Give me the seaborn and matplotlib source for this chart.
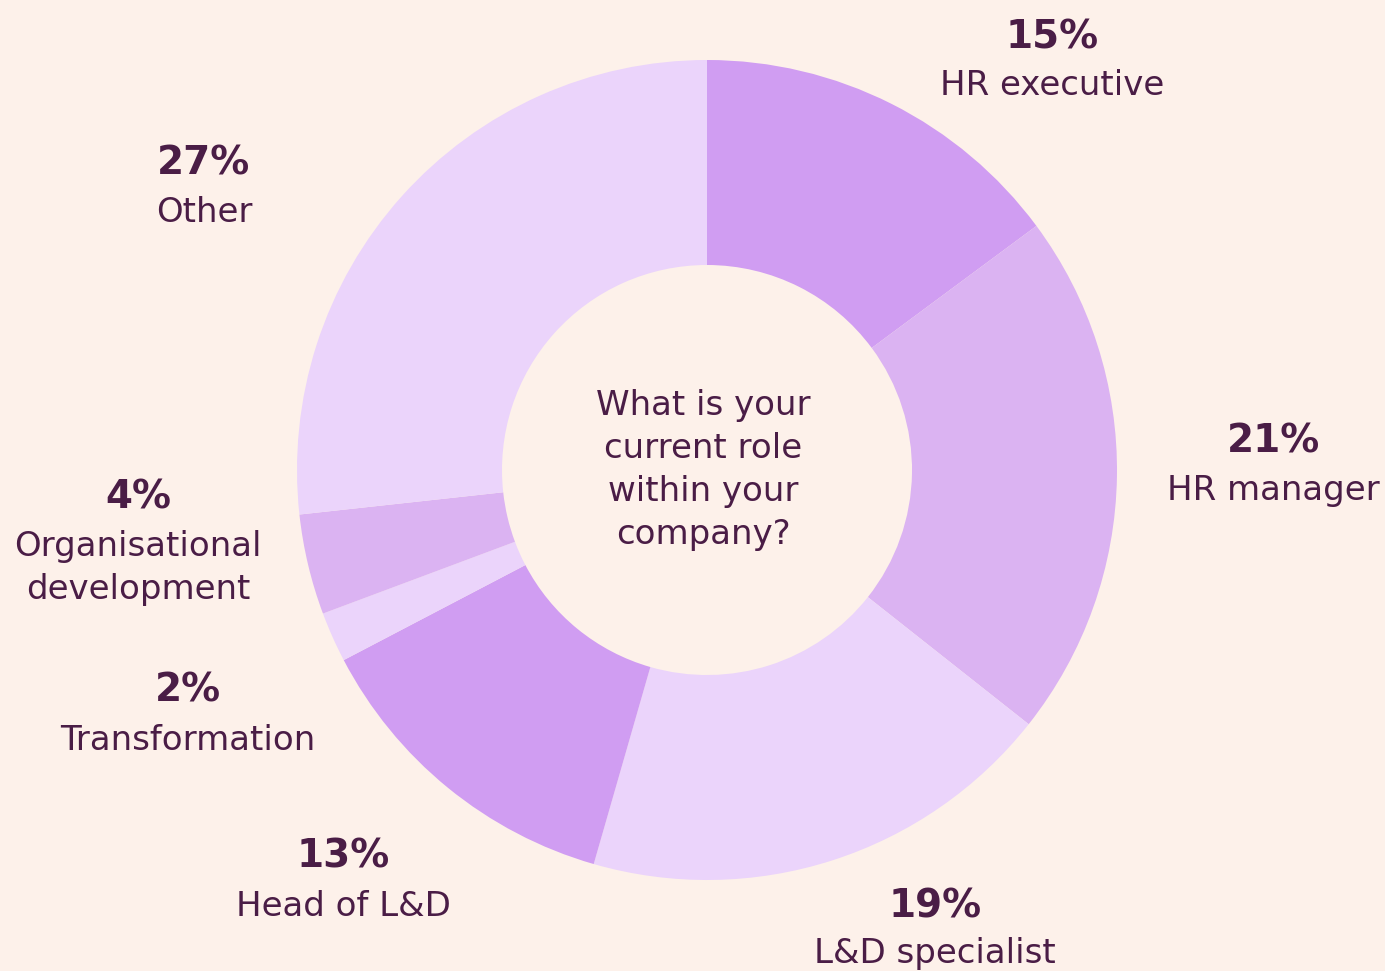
import matplotlib
matplotlib.use("Agg")
import matplotlib.pyplot as plt
import seaborn as sns

# Data
categories = ["HR executive", "HR manager", "L&D specialist", "Head of L&D",
              "Transformation", "Organisational\ndevelopment", "Other"]
values = [15, 21, 19, 13, 2, 4, 27]
pct_labels = ["15%", "21%", "19%", "13%", "2%", "4%", "27%"]
question = "What is your\ncurrent role\nwithin your\ncompany?"

# Styles
DARK = "#d09df2"
MED = "#dbb3f2"
LIGHT = "#ebd4fb"
seg_colors = [DARK, MED, LIGHT, DARK, LIGHT, MED, LIGHT]
BG = "#fdf1ea"
TXT = "#4a1d46"

# Label layout (figure pixel coords, y from top): (x, y of pct, y of label)
label_pos = [(1052, 37, 85), (1273, 441, 490), (935, 906, 953), (343, 857, 906),
             (188, 691, 741), (138, 497, 568), (204, 163, 212)]

W, H = 1385, 971
sns.set_theme(style="white")
plt.rcParams["font.family"] = ["DejaVu Sans"]

fig = plt.figure(figsize=(W / 100, H / 100), dpi=100, facecolor=BG)
ax = fig.add_axes([0, 0, 1, 1])
ax.set_facecolor(BG)

cx, cy, R = 707, H - 470, 410
ax.pie(values, colors=seg_colors, startangle=90, counterclock=False,
       radius=R, center=(cx, cy),
       wedgeprops=dict(width=R * 0.5, linewidth=0))

ax.set_xlim(0, W)
ax.set_ylim(0, H)
ax.set_aspect("equal")
ax.axis("off")

for cat, pct, (x, yp, yl) in zip(categories, pct_labels, label_pos):
    ax.text(x, H - yp, pct, ha="center", va="center", fontsize=28,
            fontweight="bold", color=TXT)
    ax.text(x, H - yl, cat, ha="center", va="center", fontsize=24.5,
            color=TXT, linespacing=1.4)

ax.text(703, H - 470, question, ha="center", va="center", fontsize=24.5,
        color=TXT, linespacing=1.38)

fig.savefig("out.png", dpi=100, facecolor=BG)
